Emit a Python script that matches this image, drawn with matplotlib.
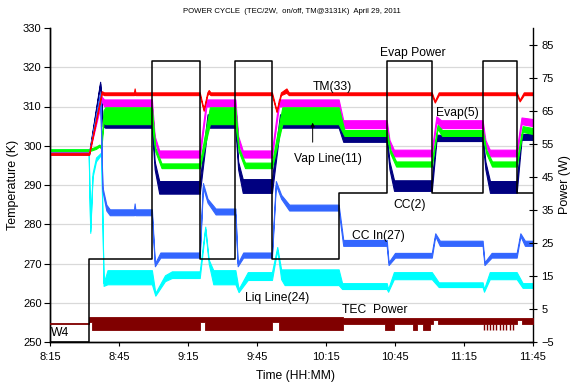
import matplotlib
matplotlib.use("Agg")
import matplotlib.pyplot as plt
from matplotlib.ticker import FixedLocator, FuncFormatter

plt.rcParams['font.family'] = ['Liberation Sans', 'DejaVu Sans']

# x values are minutes elapsed since 8:15
START_MIN = 8 * 60 + 15
time_ticks = [0, 30, 60, 90, 120, 150, 180, 210]
temp_ticks = [250, 260, 270, 280, 290, 300, 310, 320, 330]
power_ticks = [-5, 5, 15, 25, 35, 45, 55, 65, 75, 85]
grid_levels = [260, 270, 280, 290, 300, 310, 320]

# ---- temperature traces (K): (minute, low, high) of the noisy band ----
tm33 = [(0, 297.7, 298.1), (17, 297.7, 298.1), (22.5, 313.2, 313.9), (23.5, 312.9, 313.6),
        (36.5, 312.9, 313.6), (36.8, 313.0, 314.6), (37.1, 312.9, 313.6),
        (65.1, 312.9, 313.6), (66.8, 308.9, 309.3), (68.4, 312.9, 313.6), (69.0, 313.3, 314.2),
        (69.8, 312.9, 313.6), (96.5, 312.9, 313.6), (98.5, 308.6, 309.0), (100.4, 312.9, 313.6),
        (102.8, 313.5, 314.6), (103.8, 312.9, 313.6), (166, 312.9, 313.6), (167.3, 311.0, 311.4),
        (169, 312.9, 313.6), (202.9, 312.9, 313.6), (204.2, 311.3, 311.7), (206, 312.9, 313.6),
        (210, 312.9, 313.6)]

evap5 = [(0, 298.0, 298.4), (17, 298.0, 298.4), (22.5, 311.5, 312.5), (23.5, 310.0, 311.8),
         (44.3, 310.0, 311.8), (45.5, 301.5, 302.5), (47.5, 297.0, 298.8),
         (65.1, 297.0, 298.8), (68.0, 310.0, 311.8),
         (80.6, 310.0, 311.8), (81.8, 301.5, 302.5), (83.8, 297.0, 298.8),
         (96.5, 297.0, 298.8), (99.5, 310.0, 311.8),
         (125.5, 310.0, 311.8), (127.5, 304.5, 306.5),
         (146.4, 304.5, 306.5), (147.6, 300.5, 301.5), (149.5, 297.3, 299.0),
         (166, 297.3, 299.0), (168.0, 306.0, 307.5), (170, 304.5, 306.5),
         (188.1, 304.5, 306.5), (189.3, 300.5, 301.5), (191.2, 297.3, 299.0),
         (202.9, 297.3, 299.0), (205, 305.5, 307.2), (210, 305.0, 306.8)]

vap11 = [(0, 298.6, 299.1), (17, 298.6, 299.1), (20, 299.2, 299.8), (21.5, 299.8, 300.3),
         (22.3, 299.2, 299.7), (23.3, 306.0, 309.0), (24, 305.5, 309.8),
         (44.3, 305.5, 309.8), (45.8, 298.5, 299.5), (48.5, 294.3, 295.5),
         (65.1, 294.3, 295.5), (69.5, 305.5, 309.8),
         (80.6, 305.5, 309.8), (82.1, 298.5, 299.5), (84.8, 294.3, 295.7),
         (96.5, 294.3, 295.7), (101, 305.5, 309.8),
         (125.5, 305.5, 309.8), (128, 302.5, 304.0),
         (146.4, 302.5, 304.0), (148, 298.0, 299.0), (150.5, 294.7, 296.0),
         (166, 294.7, 296.0), (168.5, 304.3, 305.3), (170.5, 302.5, 304.0),
         (188.1, 302.5, 304.0), (189.7, 298.0, 299.0), (192.2, 294.7, 296.0),
         (202.9, 294.7, 296.0), (205.5, 303.5, 305.0), (210, 303.0, 304.5)]

cc2 = [(0, 297.8, 298.2), (17, 297.8, 298.2), (21.8, 315.8, 316.3), (22.9, 305.0, 307.0),
       (24, 304.6, 308.0), (44.3, 304.6, 308.0), (45.5, 294.0, 296.0), (47.5, 287.8, 291.0),
       (65.1, 287.8, 291.0), (68.5, 304.6, 308.0),
       (80.6, 304.6, 308.0), (81.8, 294.0, 296.0), (83.8, 288.0, 291.5),
       (96.5, 288.0, 291.5), (100, 304.6, 308.0),
       (125.5, 304.6, 308.0), (127.5, 301.0, 303.0),
       (146.4, 301.0, 303.0), (147.6, 294.0, 296.0), (149.6, 288.5, 291.2),
       (166, 288.5, 291.2), (168, 301.2, 302.8),
       (188.1, 301.2, 302.8), (189.3, 294.0, 296.0), (191.3, 288.0, 291.0),
       (202.9, 288.0, 291.0), (205, 301.5, 303.0), (210, 301.5, 303.0)]

ccin27 = [(0, 297.8, 298.2), (17, 297.8, 298.2), (21.8, 313.0, 313.5), (22.8, 288.5, 289.5),
          (24.5, 283.5, 285.0), (26, 282.3, 283.8), (36.5, 282.3, 283.8), (36.8, 282.5, 285.3),
          (37.1, 282.3, 283.8), (44.3, 282.3, 283.8), (45.6, 269.3, 270.0), (48, 271.5, 272.8),
          (65.1, 271.5, 272.8), (66.5, 289.5, 290.5), (68.5, 285.5, 286.5), (72, 282.5, 284.0),
          (80.6, 282.5, 284.0), (81.6, 269.3, 270.0), (84, 271.5, 272.8),
          (96.5, 271.5, 272.8), (98.2, 290.0, 291.0), (100.5, 286.5, 287.5), (104, 283.5, 285.0),
          (125.5, 283.5, 285.0), (127.5, 274.5, 276.0),
          (146.4, 274.5, 276.0), (147.2, 269.6, 270.3), (150, 271.5, 272.7),
          (166, 271.5, 272.7), (167.5, 277.0, 277.7), (169.5, 274.5, 275.8),
          (188.1, 274.5, 275.8), (188.9, 269.6, 270.3), (192, 271.5, 272.7),
          (202.9, 271.5, 272.7), (204.5, 277.0, 277.7), (206.5, 274.5, 275.8), (210, 274.5, 275.8)]

liq24 = [(0, 298.6, 299.1), (16.8, 298.6, 299.1), (17.5, 277.8, 278.3), (18.5, 292.0, 293.0),
         (20, 296.0, 297.0), (22.3, 297.8, 298.3), (23.3, 264.3, 265.0), (25, 264.7, 268.3),
         (44.3, 264.7, 268.3), (45.8, 261.8, 262.5), (50, 265.5, 267.0), (53, 266.3, 268.0),
         (65.1, 266.3, 268.0), (67.5, 278.8, 279.4), (69, 270.0, 271.0), (71, 264.7, 268.3),
         (80.6, 264.7, 268.3), (82, 262.7, 263.5), (86, 265.8, 267.8),
         (96.5, 265.8, 267.8), (98.8, 273.5, 274.2), (100.5, 266.0, 268.5), (102, 264.5, 268.5),
         (125.5, 264.5, 268.5), (127.0, 263.5, 265.0),
         (146.4, 263.5, 265.0), (147.0, 262.8, 263.5), (149.5, 266.0, 267.8),
         (166, 266.0, 267.8), (169, 264.0, 265.2),
         (188.1, 264.0, 265.2), (188.7, 262.8, 263.5), (191.2, 266.0, 267.8),
         (202.9, 266.0, 267.8), (205.5, 263.8, 265.0), (210, 263.8, 265.0)]

# ---- power (W) ----
evap_t = [0, 17, 17, 44.3, 44.3, 65.1, 65.1, 80.6, 80.6, 96.5, 96.5, 125.5, 125.5,
          146.4, 146.4, 166, 166, 188.1, 188.1, 202.9, 202.9, 210]
evap_w = [-5, -5, 20, 20, 80, 80, 20, 20, 80, 80, 20, 20, 40, 40,
          80, 80, 40, 40, 80, 80, 40, 40]

# TEC power band, piecewise constant from each start minute
tec_t = [0, 17, 18.3, 65, 67.5, 96.5, 99.5, 127.4, 145.7, 149.4, 158, 159.5, 162, 165,
         166.4, 168.6, 203, 205, 210]
tec_lo = [0.3, 1.0, -1.5, 1.0, -1.5, 1.0, -1.5, 0.4, -1.5, 0.4, -1.5, 0.4, -1.5, 0.4,
          1.6, 0.4, 1.6, 0.4, 0.4]
tec_hi = [0.7, 2.5, 2.5, 2.5, 2.5, 2.5, 2.5, 2.2, 2.2, 2.2, 2.2, 2.2, 2.2, 2.2,
          2.3, 2.2, 2.3, 2.2, 2.2]
tec_drops = [188.5, 190.0, 191.5, 192.6, 194.0, 195.5, 197.0, 198.4, 200.0, 201.5]

fig = plt.figure(figsize=(5.75, 3.85), dpi=100)
ax = fig.add_axes([50 / 575, 1 - 342 / 385, 483 / 575, 314 / 385])
ax2 = ax.twinx()

for lvl in grid_levels:
    ax.axhline(lvl, color='#d9d9d9', lw=0.9, zorder=0)


def band(axis, data, color, z):
    t = [d[0] for d in data]
    lo = [d[1] for d in data]
    hi = [d[2] for d in data]
    axis.fill_between(t, lo, hi, color=color, lw=0.8, edgecolor=color, zorder=z)


band(ax, liq24, '#00ffff', 2)
band(ax, cc2, '#000080', 3)
band(ax, evap5, '#ff00ff', 4)
band(ax, vap11, '#00ff00', 5)
band(ax, ccin27, '#3366ff', 6)
band(ax, tm33, '#ff0000', 7)

ax2.plot(evap_t, evap_w, color='black', lw=1.1, zorder=5)
ax2.fill_between(tec_t, tec_lo, tec_hi, step='post', color='#800000', lw=0.6,
                 edgecolor='#800000', zorder=4)
ax2.vlines(tec_drops, -1.5, 0.4, color='#800000', lw=1.0, zorder=4)

ax.set_xlim(0, 210)
ax.set_ylim(250, 330)
ax2.set_ylim(-5, 90)

ax.xaxis.set_major_locator(FixedLocator(time_ticks))
ax.xaxis.set_major_formatter(FuncFormatter(
    lambda v, p: f"{(START_MIN + int(round(v))) // 60}:{(START_MIN + int(round(v))) % 60:02d}"))
ax.set_yticks(temp_ticks)
ax2.set_yticks(power_ticks)

for a in (ax, ax2):
    a.spines['top'].set_visible(False)
ax.spines['right'].set_visible(False)
ax.tick_params(axis='y', direction='out', length=4, width=0.8, labelsize=8, pad=2)
ax.tick_params(axis='x', direction='out', length=3, width=0.8, labelsize=8, pad=4)
ax2.tick_params(axis='y', direction='inout', length=6, width=0.8, labelsize=8, pad=3)
for a in (ax, ax2):
    for s in a.spines.values():
        s.set_linewidth(1.0)

ax.set_ylabel('Temperature (K)', fontsize=9)
ax.yaxis.set_label_coords(-0.064, 0.5)
ax2.set_ylabel('Power (W)', fontsize=9)
ax2.yaxis.set_label_coords(1.054, 0.5)
ax.set_xlabel('Time (HH:MM)', fontsize=8.7)
ax.xaxis.set_label_coords(0.509, -0.089)

fig.text(0.508, 0.971, 'POWER CYCLE  (TEC/2W,  on/off, TM@3131K)  April 29, 2011',
         ha='center', va='center', fontsize=5.6)

lab = dict(fontsize=8.7, ha='center', va='center', zorder=10)
ax.text(157.7, 323.7, 'Evap Power', **lab)
ax.text(122.9, 315.0, 'TM(33)', **lab)
ax.text(177.3, 308.3, 'Evap(5)', **lab)
ax.text(120.7, 296.6, 'Vap Line(11)', **lab)
ax.text(156.4, 284.9, 'CC(2)', **lab)
ax.text(142.9, 277.0, 'CC In(27)', **lab)
ax.text(98.6, 261.2, 'Liq Line(24)', **lab)
ax.text(141.2, 258.2, 'TEC  Power', **lab)
ax.text(0.3, 252.3, 'W4', fontsize=8.7, ha='left', va='center', zorder=10)
ax.annotate('', xy=(114.2, 306.6), xytext=(114.2, 300.2),
            arrowprops=dict(arrowstyle='-|>', color='black', lw=0.7,
                            mutation_scale=6), zorder=10)

fig.savefig('out.png', dpi=100)
